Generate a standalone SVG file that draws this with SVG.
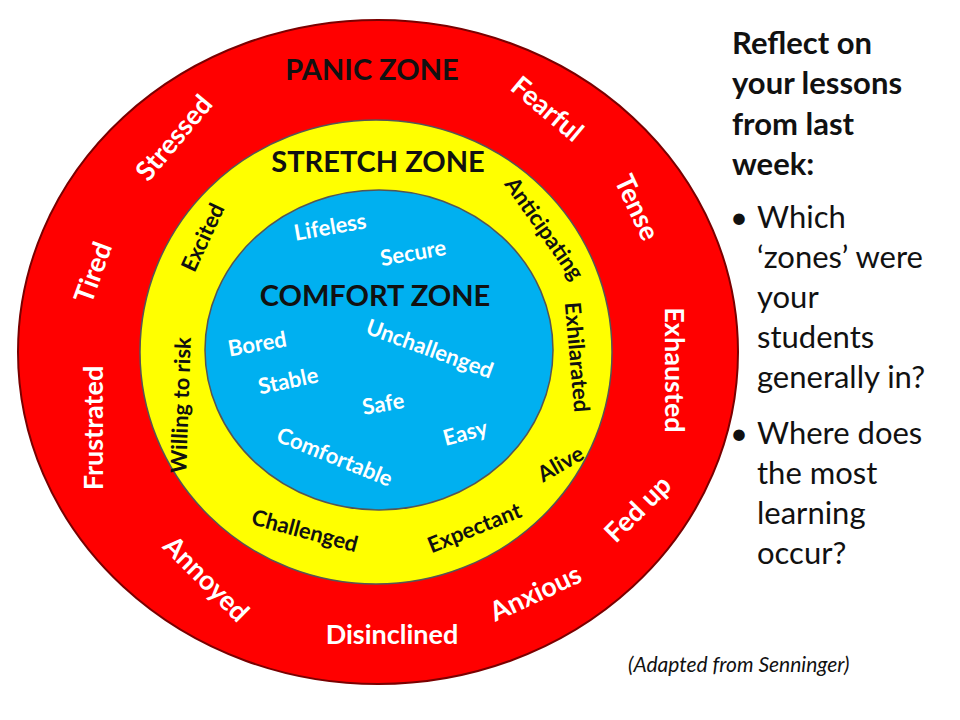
<svg xmlns="http://www.w3.org/2000/svg" width="960" height="720" viewBox="0 0 960 720">
<style>
text{font-family:Lato,"Open Sans","Liberation Sans",sans-serif;font-weight:bold;text-anchor:middle;dominant-baseline:central}
.w{fill:#fff;font-size:27px}
.y{fill:#111;font-size:22px}
.b{fill:#fff;font-size:22px}
.z{fill:#111;font-size:29px}
.r{fill:#111;font-size:31px;text-anchor:start;dominant-baseline:auto;font-weight:normal}
</style>
<rect width="960" height="720" fill="#fff"/>
<g id="panic"><ellipse cx="378" cy="352" rx="360" ry="332" fill="#ff0000" stroke="#7a0000" stroke-width="2"/></g>
<g id="stretch"><ellipse cx="376" cy="352" rx="236" ry="232" fill="#ffff00" stroke="#555" stroke-width="1.5"/></g>
<g id="comfort"><ellipse cx="379" cy="350" rx="174" ry="160" fill="#00b0f0" stroke="#555" stroke-width="1.5"/></g>
<g id="labels">
<text class="z" x="372" y="68">PANIC ZONE</text>
<text class="w" transform="translate(173,137) rotate(-50)">Stressed</text>
<text class="w" transform="translate(548,108) rotate(40)">Fearful</text>
<text class="w" transform="translate(638,207) rotate(65)">Tense</text>
<text class="w" transform="translate(92,272) rotate(-70)">Tired</text>
<text class="w" transform="translate(675,370) rotate(90)">Exhausted</text>
<text class="w" transform="translate(92,428) rotate(-90)">Frustrated</text>
<text class="w" transform="translate(637,508) rotate(-45)">Fed up</text>
<text class="w" transform="translate(207,578) rotate(45)">Annoyed</text>
<text class="w" transform="translate(535,592) rotate(-25)">Anxious</text>
<text class="w" x="392" y="633">Disinclined</text>
<text class="z" x="378" y="160">STRETCH ZONE</text>
<text class="y" transform="translate(202,237) rotate(-65)">Excited</text>
<text class="y" transform="translate(545,228) rotate(55)">Anticipating</text>
<text class="y" transform="translate(578,357) rotate(85)">Exhilarated</text>
<text class="y" transform="translate(180,405) rotate(-88)">Willing to risk</text>
<text class="y" transform="translate(560,463) rotate(-30)">Alive</text>
<text class="y" transform="translate(474,527) rotate(-22)">Expectant</text>
<text class="y" transform="translate(305,530) rotate(15)">Challenged</text>
<text class="z" x="375" y="294">COMFORT ZONE</text>
<text class="b" transform="translate(330,226) rotate(-10)">Lifeless</text>
<text class="b" transform="translate(413,252) rotate(-10)">Secure</text>
<text class="b" transform="translate(257,343) rotate(-10)">Bored</text>
<text class="b" transform="translate(430,348) rotate(20)">Unchallenged</text>
<text class="b" transform="translate(288,380) rotate(-12)">Stable</text>
<text class="b" transform="translate(383,403) rotate(-10)">Safe</text>
<text class="b" transform="translate(335,456) rotate(22)">Comfortable</text>
<text class="b" transform="translate(465,432) rotate(-15)">Easy</text>
</g>
<g id="reflect">
<text class="r" style="font-weight:bold" x="732" y="54">Reflect on</text>
<text class="r" style="font-weight:bold" x="732" y="94">your lessons</text>
<text class="r" style="font-weight:bold" x="732" y="135">from last</text>
<text class="r" style="font-weight:bold" x="732" y="175">week:</text>
<text class="r" x="730" y="228">•</text><text class="r" x="757" y="228">Which</text>
<text class="r" x="757" y="268">‘zones’ were</text>
<text class="r" x="757" y="308">your</text>
<text class="r" x="757" y="348">students</text>
<text class="r" x="757" y="388">generally in?</text>
<text class="r" x="730" y="444">•</text><text class="r" x="757" y="444">Where does</text>
<text class="r" x="757" y="484">the most</text>
<text class="r" x="757" y="524">learning</text>
<text class="r" x="757" y="564">occur?</text>
<text class="r" style="font-size:21px;font-style:italic" x="628" y="672">(Adapted from Senninger)</text>
</g>
</svg>
